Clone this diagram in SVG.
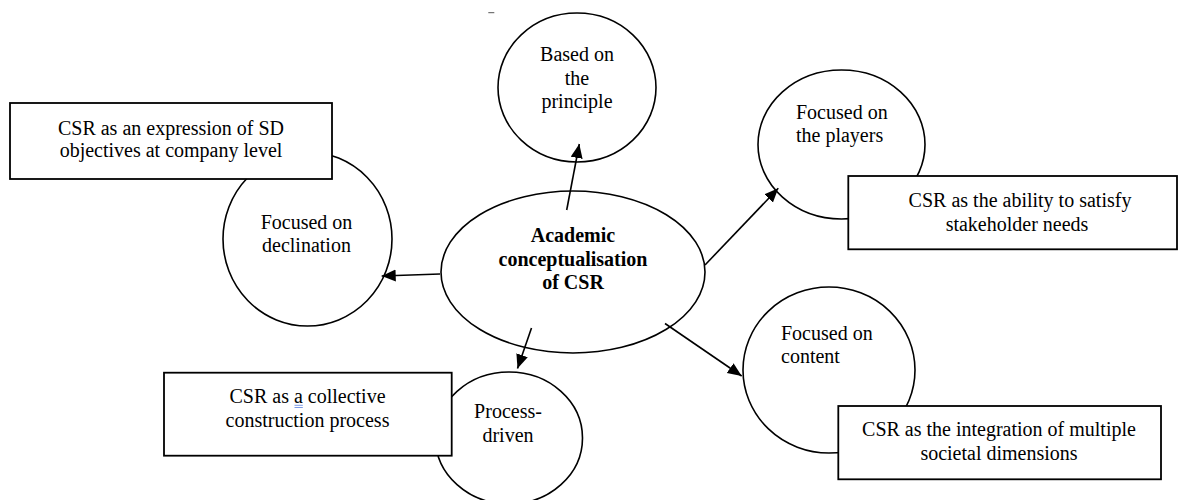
<svg xmlns="http://www.w3.org/2000/svg" width="1179" height="500" viewBox="0 0 1179 500">
  <style>
    .shape { fill: #ffffff; stroke: #000000; stroke-width: 1.6; }
    .box { fill: #ffffff; stroke: #000000; stroke-width: 1.8; }
    .t { font-size: 20px; fill: #000000; }
    .c { text-anchor: middle; }
    .b { font-weight: bold; }
    .conn { stroke: #000000; stroke-width: 1.6; fill: none; marker-end: url(#arrow); }
  </style>
  <defs>
    <marker id="arrow" markerUnits="userSpaceOnUse" markerWidth="16" markerHeight="13" refX="14" refY="6" orient="auto">
      <path d="M0,0 L14,6 L0,12 z" fill="#000000"/>
    </marker>
  </defs>
  <rect width="1179" height="500" fill="#ffffff"/>
  <line x1="488.3" y1="12.7" x2="494.3" y2="12.7" stroke="#555555" stroke-width="1"/>

  <g font-family="'Liberation Serif', 'DejaVu Serif', serif">
  <g id="node-declination">
    <ellipse class="shape" cx="307.5" cy="239" rx="84.5" ry="87"/>
    <text class="t c" x="306.5" y="229">Focused on</text>
    <text class="t c" x="306.5" y="252">declination</text>
  </g>
  <g id="node-principle">
    <ellipse class="shape" cx="577" cy="87.5" rx="79" ry="74.5"/>
    <text class="t c" x="577" y="61">Based on</text>
    <text class="t c" x="577" y="85">the</text>
    <text class="t c" x="577" y="108">principle</text>
  </g>
  <g id="node-players">
    <ellipse class="shape" cx="841.5" cy="144.5" rx="83.5" ry="74.5"/>
    <text class="t" x="796" y="119">Focused on</text>
    <text class="t" x="796" y="142">the players</text>
  </g>
  <g id="node-content">
    <ellipse class="shape" cx="829" cy="370" rx="86" ry="83"/>
    <text class="t" x="781" y="339.5">Focused on</text>
    <text class="t" x="781" y="363">content</text>
  </g>
  <g id="node-process">
    <ellipse class="shape" cx="509" cy="438" rx="73.5" ry="66"/>
    <text class="t c" x="508" y="418">Process-</text>
    <text class="t c" x="508" y="442">driven</text>
  </g>
  <g id="node-center">
    <ellipse class="shape" cx="573" cy="272" rx="132" ry="81"/>
    <text class="t c b" x="573" y="242">Academic</text>
    <text class="t c b" x="573" y="266">conceptualisation</text>
    <text class="t c b" x="573" y="289">of CSR</text>
  </g>

  <g id="box-sd">
    <rect class="box" x="10" y="103" width="322" height="76"/>
    <text class="t c" x="171" y="135">CSR as an expression of SD</text>
    <text class="t c" x="171" y="157">objectives at company level</text>
  </g>
  <g id="box-stakeholder">
    <rect class="box" x="848.3" y="176" width="328.7" height="73.3"/>
    <text class="t c" x="1020" y="206.5">CSR as the ability to satisfy</text>
    <text class="t c" x="1017" y="230.5">stakeholder needs</text>
  </g>
  <g id="box-collective">
    <rect class="box" x="164" y="372.7" width="287.7" height="83"/>
    <text class="t c" x="307.5" y="402.7">CSR as a collective</text>
    <text class="t c" x="307.5" y="426.7">construction process</text>
    <line x1="294.5" y1="405.3" x2="302.8" y2="405.3" stroke="#6d8fe3" stroke-width="0.9"/>
    <line x1="294.5" y1="407.5" x2="302.8" y2="407.5" stroke="#6d8fe3" stroke-width="0.9"/>
  </g>
  <g id="box-societal">
    <rect class="box" x="838.3" y="406" width="322.7" height="73.3"/>
    <text class="t c" x="999" y="436">CSR as the integration of multiple</text>
    <text class="t c" x="999" y="460">societal dimensions</text>
  </g>
  </g>

  <g id="connectors">
    <line class="conn" x1="566.7" y1="210" x2="579.3" y2="144"/>
    <line class="conn" x1="440" y1="274" x2="381.7" y2="276"/>
    <line class="conn" x1="531.5" y1="328" x2="517.5" y2="368.5"/>
    <line class="conn" x1="705" y1="265" x2="778.3" y2="188.3"/>
    <line class="conn" x1="665" y1="323.5" x2="741.7" y2="376"/>
  </g>
</svg>
